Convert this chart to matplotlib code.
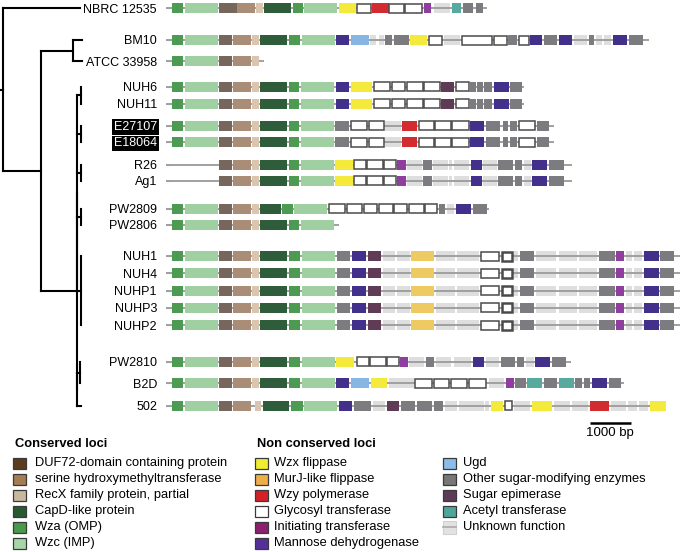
import matplotlib
matplotlib.use("Agg")
import matplotlib.pyplot as plt
from matplotlib.patches import Rectangle

plt.rcParams['font.family'] = ['Liberation Sans', 'DejaVu Sans']

# ------------------------------------------------------------------ data
strains = ["NBRC 12535", "BM10", "ATCC 33958", "NUH6", "NUH11", "E27107", "E18064",
           "R26", "Ag1", "PW2809", "PW2806", "NUH1", "NUH4", "NUHP1", "NUHP3", "NUHP2",
           "PW2810", "B2D", "502"]
highlighted = ["E27107", "E18064"]

# cluster (backbone) length in bp
cluster_len = [7710, 11580, 2340, 8580, 8580, 9300, 9300, 9740, 9740, 7760, 4140,
               12340, 12340, 12340, 12340, 12340, 9710, 10990, 12000]

# genes: (start bp, end bp, type)
core_a = [(150, 415, 'wza'), (460, 1240, 'wzc'), (1280, 1580, 'duf'), (1600, 2030, 'shm'),
          (2060, 2220, 'recx'), (2260, 2910, 'capd'), (2960, 3220, 'wza'), (3260, 4060, 'wzc')]
core_b = [(150, 415, 'wza'), (460, 1240, 'wzc'), (1280, 1580, 'duf'), (1600, 2030, 'shm'),
          (2060, 2220, 'recx'), (2260, 2900, 'capd'), (2940, 3200, 'wza'), (3240, 4030, 'wzc')]

genes_nbrc = [(140, 415, 'wza'), (460, 1240, 'wzc'), (1270, 1700, 'duf'), (1700, 2140, 'shm'),
              (2160, 2320, 'recx'), (2350, 2990, 'capd'), (3040, 3280, 'wza'), (3320, 4110, 'wzc'),
              (4150, 4560, 'wzx'), (4590, 4920, 'gt'), (4950, 5340, 'wzy'), (5360, 5700, 'gt'),
              (5740, 6150, 'gt'), (6180, 6370, 'it'), (6420, 6820, 'unk'), (6860, 7070, 'at'),
              (7120, 7360, 'osm'), (7440, 7600, 'osm')]

genes_bm10 = core_a + [(4080, 4400, 'md'), (4430, 4860, 'ugd'), (4900, 5040, 'unk'),
                       (5100, 5220, 'unk'), (5260, 5420, 'osm'), (5460, 5830, 'osm'),
                       (5860, 6270, 'wzx'), (6310, 6620, 'gt'), (6660, 7060, 'unk'),
                       (7110, 7820, 'gt'), (7860, 8180, 'gt'), (8200, 8420, 'osm'),
                       (8460, 8710, 'gt'), (8740, 9030, 'md'), (9070, 9380, 'osm'),
                       (9430, 9740, 'md'), (9780, 10100, 'unk'), (10140, 10270, 'osm'),
                       (10320, 10470, 'unk'), (10510, 10670, 'unk'), (10720, 11070, 'md'),
                       (11120, 11460, 'osm')]

genes_atcc = core_a[:5]

genes_nuh6 = core_b + [(4070, 4400, 'md'), (4440, 4950, 'wzx'), (4980, 5380, 'gt'),
                       (5420, 5740, 'gt'), (5790, 6160, 'gt'), (6200, 6580, 'gt'),
                       (6600, 6920, 'se'), (6950, 7260, 'gt'), (7280, 7440, 'osm'),
                       (7460, 7600, 'osm'), (7640, 7820, 'osm'), (7860, 8220, 'md'),
                       (8260, 8540, 'osm')]

genes_e27107 = core_b + [(4060, 4400, 'osm'), (4430, 4820, 'gt'), (4860, 5220, 'gt'),
                         (5260, 5630, 'unk'), (5670, 6020, 'wzy'), (6060, 6420, 'gt'),
                         (6460, 6830, 'gt'), (6870, 7260, 'gt'), (7300, 7630, 'md'),
                         (7680, 8020, 'osm'), (8080, 8220, 'osm'), (8260, 8430, 'osm'),
                         (8470, 8860, 'gt'), (8900, 9190, 'osm')]

genes_r26 = core_b[2:] + [(4060, 4480, 'wzx'), (4510, 4800, 'gt'), (4830, 5200, 'gt'),
                          (5230, 5510, 'gt'), (5540, 5760, 'it'), (5780, 6140, 'unk'),
                          (6160, 6380, 'osm'), (6400, 6780, 'unk'), (6800, 6860, 'unk'),
                          (6900, 7280, 'unk'), (7310, 7580, 'md'), (7600, 7940, 'unk'),
                          (7960, 8320, 'osm'), (8380, 8540, 'osm'), (8580, 8750, 'unk'),
                          (8790, 9150, 'md'), (9190, 9550, 'osm')]

genes_pw2809 = core_b[:5] + [(2260, 2750, 'capd'), (2780, 3040, 'wza'), (3080, 3870, 'wzc'),
                             (3920, 4300, 'gt'), (4340, 4700, 'gt'), (4740, 5060, 'gt'),
                             (5100, 5440, 'gt'), (5470, 5780, 'gt'), (5820, 6180, 'gt'),
                             (6220, 6500, 'gt'), (6540, 6700, 'osm'), (6740, 6900, 'unk'),
                             (6960, 7310, 'md'), (7360, 7700, 'osm')]

genes_pw2806 = list(core_b)

genes_nuh1 = core_a + [(4100, 4420, 'osm'), (4460, 4800, 'md'), (4840, 5150, 'se'),
                       (5200, 5500, 'unk'), (5540, 5860, 'unk'), (5870, 6440, 'murj'),
                       (6480, 6940, 'unk'), (6990, 7520, 'unk'), (7560, 8000, 'gt'),
                       (8060, 8300, 'gtb'), (8360, 8440, 'unk'), (8500, 8830, 'osm'),
                       (8880, 9360, 'unk'), (9420, 9860, 'unk'), (9900, 10350, 'unk'),
                       (10390, 10780, 'osm'), (10800, 10990, 'it'), (11040, 11180, 'unk'),
                       (11230, 11420, 'unk'), (11460, 11820, 'md'), (11860, 12190, 'osm')]

genes_pw2810 = core_a + [(4080, 4510, 'wzx'), (4580, 4880, 'gt'), (4900, 5270, 'gt'),
                         (5300, 5580, 'gt'), (5620, 5820, 'it'), (5840, 6190, 'unk'),
                         (6240, 6430, 'osm'), (6480, 6830, 'unk'), (6900, 7310, 'unk'),
                         (7360, 7630, 'md'), (7680, 8000, 'unk'), (8030, 8380, 'osm'),
                         (8430, 8590, 'osm'), (8640, 8820, 'unk'), (8860, 9220, 'md'),
                         (9270, 9590, 'osm')]

genes_b2d = core_a + [(4080, 4400, 'md'), (4430, 4880, 'ugd'), (4910, 5310, 'wzx'),
                      (5360, 5940, 'unk'), (5980, 6380, 'gt'), (6420, 6800, 'gt'),
                      (6830, 7220, 'gt'), (7260, 7680, 'gt'), (7740, 8110, 'unk'),
                      (8150, 8350, 'it'), (8380, 8640, 'osm'), (8670, 9020, 'at'),
                      (9060, 9390, 'osm'), (9440, 9790, 'at'), (9820, 9980, 'osm'),
                      (10020, 10180, 'osm'), (10220, 10580, 'md'), (10630, 10910, 'osm')]

genes_502 = [(150, 415, 'wza'), (460, 1240, 'wzc'), (1280, 1580, 'duf'), (1600, 2030, 'shm'),
             (2140, 2270, 'recx'), (2320, 2960, 'capd'), (3000, 3280, 'wza'), (3310, 4110, 'wzc'),
             (4150, 4470, 'md'), (4520, 4910, 'osm'), (4960, 5260, 'unk'), (5300, 5600, 'se'),
             (5630, 5980, 'osm'), (6030, 6380, 'osm'), (6420, 6640, 'osm'), (6700, 6990, 'unk'),
             (7040, 7620, 'unk'), (7660, 7760, 'unk'), (7790, 8080, 'wzx'), (8140, 8300, 'gt'),
             (8340, 8740, 'unk'), (8790, 9270, 'wzx'), (9310, 9700, 'unk'), (9740, 10140, 'unk'),
             (10180, 10630, 'wzy'), (10670, 11040, 'unk'), (11080, 11310, 'unk'),
             (11360, 11560, 'unk'), (11620, 11990, 'wzx')]

cluster_genes = [genes_nbrc, genes_bm10, genes_atcc, genes_nuh6, genes_nuh6, genes_e27107,
                 genes_e27107, genes_r26, genes_r26, genes_pw2809, genes_pw2806, genes_nuh1,
                 genes_nuh1, genes_nuh1, genes_nuh1, genes_nuh1, genes_pw2810, genes_b2d, genes_502]

# phylogeny: (name, branch length, children)
tree = ("", 3.3, [
    ("NBRC 12535", 76.7, []),
    ("", 37.4, [
        ("", 32.0, [("BM10", 9.0, []), ("ATCC 33958", 9.0, [])]),
        ("", 36.0, [
            ("", 0.8, [
                ("", 4.0, [("NUH6", 0, []), ("NUH11", 0, [])]),
                ("", 4.0, [("E27107", 0, []), ("E18064", 0, [])]),
                ("", 4.0, [("R26", 0, []), ("Ag1", 0, [])]),
                ("", 4.0, [("PW2809", 0, []), ("PW2806", 0, [])]),
                ("", 4.0, [("NUH1", 0, []), ("NUH4", 0, []), ("NUHP1", 0, []),
                           ("NUHP3", 0, []), ("NUHP2", 0, [])]),
            ]),
            ("", 0.8, [
                ("", 3.0, [("PW2810", 0, []), ("B2D", 0, [])]),
                ("502", 4.0, []),
            ]),
        ]),
    ]),
])

scale_bp = 1000

# legend groups
conserved_legend = [('duf', 'DUF72-domain containing protein'),
                    ('shm', 'serine hydroxymethyltransferase'),
                    ('recx', 'RecX family protein, partial'),
                    ('capd', 'CapD-like protein'),
                    ('wza', 'Wza (OMP)'),
                    ('wzc', 'Wzc (IMP)')]
nonconserved_legend = [('wzx', 'Wzx flippase'),
                       ('murj', 'MurJ-like flippase'),
                       ('wzy', 'Wzy polymerase'),
                       ('gt', 'Glycosyl transferase'),
                       ('it', 'Initiating transferase'),
                       ('md', 'Mannose dehydrogenase')]
other_legend = [('ugd', 'Ugd'),
                ('osm', 'Other sugar-modifying enzymes'),
                ('se', 'Sugar epimerase'),
                ('at', 'Acetyl transferase'),
                ('unk', 'Unknown function')]

# ------------------------------------------------------------------ styles
gene_colors = {'wza': '#4d9b53', 'wzc': '#a0cfa2', 'duf': '#77665c', 'shm': '#aa8d77',
               'recx': '#d9c5b0', 'capd': '#2f5d3c', 'wzx': '#f4ea3c', 'murj': '#eecb62',
               'wzy': '#d22b30', 'gt': '#ffffff', 'gtb': '#ffffff', 'it': '#8f3e9f',
               'md': '#42308a', 'ugd': '#88b6e2', 'osm': '#7c7c80', 'se': '#603b55',
               'at': '#57aa9e', 'unk': '#dedede'}
legend_colors = {'duf': '#5b3b1e', 'shm': '#a57d55', 'recx': '#c8b89d', 'capd': '#285a32',
                 'wza': '#4a9a4c', 'wzc': '#a6d6a8', 'wzx': '#f0ec30', 'murj': '#eeae48',
                 'wzy': '#d42027', 'gt': '#ffffff', 'it': '#8c1f6e', 'md': '#55309a',
                 'ugd': '#8cbce8', 'osm': '#777777', 'se': '#5c3a58', 'at': '#4ea59a',
                 'unk': '#e2e2e2'}

W, H = 685, 552
row_y = [8.3, 40, 61, 86.5, 103.5, 125.5, 142, 164.5, 180.5, 208.5, 224.5,
         256, 273, 290.7, 307.5, 325, 361.7, 383.3, 405.7]
BOX_H = 10
AX_TOP, AX_BOT = 0, 440
GENE_X0 = 166
BP_PER_PX = 24.0

fig = plt.figure(figsize=(W / 100, H / 100), dpi=100)

# ---------------- legend (pixel canvas, drawn first, underneath)
lax = fig.add_axes([0, 0, 1, 1])
lax.set_xlim(0, W)
lax.set_ylim(H, 0)
lax.axis('off')

# ---------------- gene axes
ax = fig.add_axes([GENE_X0 / W, 1 - AX_BOT / H, (W - GENE_X0) / W, AX_BOT / H])
ax.patch.set_alpha(0)
ax.set_xlim(0, (W - GENE_X0) * BP_PER_PX)
ax.set_ylim(AX_BOT, AX_TOP)
for s in ax.spines.values():
    s.set_visible(False)
ax.set_xticks([])
ax.set_yticks(row_y)
ax.set_yticklabels(strains, fontsize=9)
ax.tick_params(axis='y', direction='in', length=3, width=0.8, color='#888888', pad=6.5)
for lab in ax.get_yticklabels():
    if lab.get_text() in highlighted:
        lab.set_color('white')
        lab.set_bbox(dict(facecolor='black', edgecolor='none', boxstyle='square,pad=0.14'))

for y, glist, L in zip(row_y, cluster_genes, cluster_len):
    ax.plot([0, L], [y, y], color='#a0a0a0', lw=1.4, zorder=2, solid_capstyle='butt')
    for (a, b, t) in glist:
        if t == 'unk':
            r = Rectangle((a, y - BOX_H / 2), b - a, BOX_H, facecolor=gene_colors[t],
                          edgecolor='none', zorder=1)
        elif t in ('gt', 'gtb'):
            r = Rectangle((a, y - BOX_H / 2 + 0.5), b - a, BOX_H - 1, facecolor='white',
                          edgecolor='#4a4a4a', lw=1.1 if t == 'gt' else 1.8, zorder=3)
        else:
            r = Rectangle((a, y - BOX_H / 2), b - a, BOX_H, facecolor=gene_colors[t],
                          edgecolor='none', zorder=3)
        ax.add_patch(r)

# scale bar
sb_x0 = (589.5 - GENE_X0) * BP_PER_PX
ax.plot([sb_x0, sb_x0 + scale_bp], [423.3, 423.3], color='black', lw=1.8,
        solid_capstyle='butt')
ax.text(sb_x0 + scale_bp / 2, 433, '1000 bp', ha='center', va='center', fontsize=9.5)

# ---------------- tree axes
tax = fig.add_axes([0, 1 - AX_BOT / H, 90 / W, AX_BOT / H])
tax.patch.set_alpha(0)
tax.set_xlim(0, 90)
tax.set_ylim(AX_BOT, AX_TOP)
tax.axis('off')

segs = []


def layout(node, xp):
    name, length, children = node
    x = xp + length
    if not children:
        y = row_y[strains.index(name)]
        segs.append(((xp, x), (y, y)))
        return y
    ys = [layout(c, x) for c in children]
    y = (min(ys) + max(ys)) / 2
    segs.append(((x, x), (min(ys), max(ys))))
    segs.append(((xp, x), (y, y)))
    return y


layout(tree, 0.0)
for xs, ys in segs:
    tax.plot(xs, ys, color='black', lw=1.5, solid_capstyle='projecting')


def legend_col(items, px, tx, y0, title=None):
    if title:
        lax.text(px + 2, 444, title, fontsize=9.3, fontweight='bold', va='center', ha='left')
    for i, (k, lbl) in enumerate(items):
        yc = y0 + i * 16
        if k == 'unk':
            lax.add_patch(Rectangle((px, yc - 6.5), 13, 13, facecolor=legend_colors[k],
                                    edgecolor='#d0d0d0', lw=0.8))
            lax.plot([px, px + 13], [yc, yc], color='#aaaaaa', lw=1.2)
        else:
            lax.add_patch(Rectangle((px, yc - 5.5), 13, 11, facecolor=legend_colors[k],
                                    edgecolor='#3a3a3a', lw=0.9))
        lax.text(tx, yc, lbl, fontsize=9.3, va='center', ha='left')


legend_col(conserved_legend, 13, 35, 463, 'Conserved loci')
legend_col(nonconserved_legend, 255, 274, 463, 'Non conserved loci')
legend_col(other_legend, 443, 463, 463)

fig.savefig('out.png', dpi=100)
